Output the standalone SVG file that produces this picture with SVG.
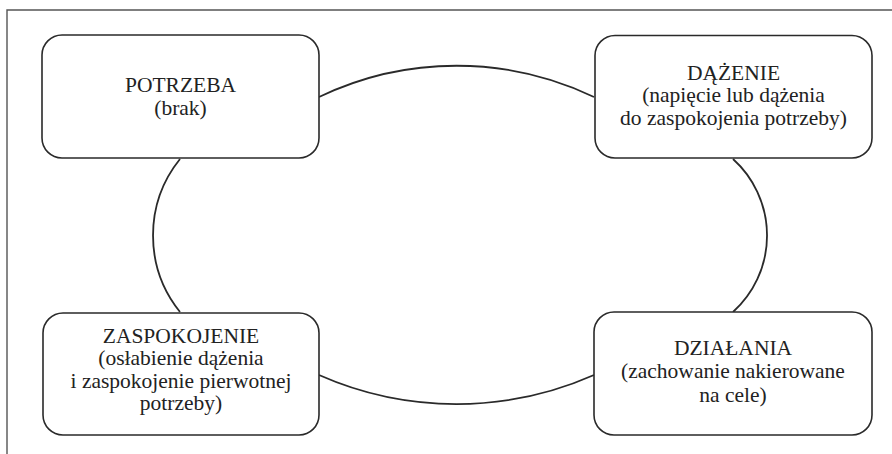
<svg xmlns="http://www.w3.org/2000/svg" width="892" height="454" viewBox="0 0 892 454">
<style>
.box{fill:#fff;stroke:#2a2a2a;stroke-width:1.6}
.arc{fill:none;stroke:#2a2a2a;stroke-width:1.8}
.frame{fill:none;stroke:#555;stroke-width:1.4}
text{font-family:"Liberation Serif","Times New Roman",serif;font-size:21.5px;fill:#222;text-anchor:middle}
</style>
<rect width="892" height="454" fill="#fff"/>
<path class="frame" d="M7 454 V10 H892"/>
<g id="connectors">
<path class="arc" d="M319 97 A318 318 0 0 1 594 97"/>
<path class="arc" d="M733 159 A103 103 0 0 1 733 312"/>
<path class="arc" d="M594 375 A340 340 0 0 1 319 375"/>
<path class="arc" d="M180 312 A122 122 0 0 1 180 159"/>
</g>
<g id="potrzeba">
<rect class="box" x="42" y="35" width="277" height="123" rx="20"/>
<text x="180.5" y="92">POTRZEBA</text>
<text x="180.5" y="114.5">(brak)</text>
</g>
<g id="dazenie">
<rect class="box" x="595" y="35.5" width="277" height="122.5" rx="20"/>
<text x="733.5" y="79.5">DĄŻENIE</text>
<text x="733.5" y="102">(napięcie lub dążenia</text>
<text x="733.5" y="124.5">do zaspokojenia potrzeby)</text>
</g>
<g id="zaspokojenie">
<rect class="box" x="43" y="313" width="276" height="122" rx="20"/>
<text x="181" y="342.5">ZASPOKOJENIE</text>
<text x="181" y="365">(osłabienie dążenia</text>
<text x="181" y="387.5">i zaspokojenie pierwotnej</text>
<text x="181" y="410">potrzeby)</text>
</g>
<g id="dzialania">
<rect class="box" x="594" y="312" width="278" height="123" rx="20"/>
<text x="733" y="354.5">DZIAŁANIA</text>
<text x="733" y="378">(zachowanie nakierowane</text>
<text x="733" y="401.5">na cele)</text>
</g>
</svg>
